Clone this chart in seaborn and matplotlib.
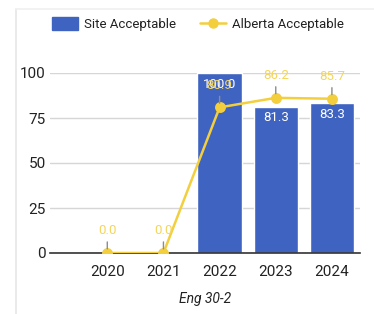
import numpy as np
import pandas as pd
import seaborn as sns
import matplotlib.pyplot as plt
from matplotlib.patches import Patch
from matplotlib.lines import Line2D

# data
years = ['2020', '2021', '2022', '2023', '2024']
site_acceptable = [np.nan, np.nan, 100.0, 81.3, 83.3]
alberta_acceptable = [0.0, 0.0, 80.9, 86.2, 85.7]
y_ticks = [0, 25, 50, 75, 100]

BLUE = '#3F63C1'
YELLOW = '#F3CF3E'
LABEL_YELLOW = '#F4D55E'

sns.set_style('white')
plt.rcParams['font.family'] = ['Roboto', 'DejaVu Sans']

df = pd.DataFrame({'year': years, 'site': site_acceptable, 'alberta': alberta_acceptable})

fig = plt.figure(figsize=(3.74, 3.14), dpi=100)
ax = fig.add_axes([50 / 374, 1 - 253 / 314, 310 / 374, 180 / 314])

sns.barplot(data=df, x='year', y='site', order=years, color=BLUE, width=0.79,
            saturation=1, ax=ax, zorder=2)
sns.pointplot(data=df, x='year', y='alberta', order=years, color=YELLOW,
              markersize=6.5, linewidth=1.8, ax=ax, zorder=4)

ax.set_xlim(-1.02, 4.5)
ax.set_ylim(0, 100)
ax.set_yticks(y_ticks)
ax.set_yticklabels([str(t) for t in y_ticks])
ax.yaxis.grid(True, color='#d6d6d6', lw=1, zorder=0)
ax.set_axisbelow(True)
for s in ['top', 'right', 'left']:
    ax.spines[s].set_visible(False)
ax.spines['bottom'].set_color('#333333')
ax.spines['bottom'].set_linewidth(1.2)
ax.spines['bottom'].set_zorder(3)
ax.tick_params(axis='both', length=0, labelsize=11, colors='#222222')
ax.tick_params(axis='x', pad=9)
ax.tick_params(axis='y', pad=3)
ax.set_ylabel('')
ax.set_xlabel('Eng 30-2', fontsize=10, style='italic', color='#222222', labelpad=9)

# bar value labels
for i, v in enumerate(site_acceptable):
    if not np.isnan(v):
        ax.annotate(f'{v:.1f}', xy=(i, v), xytext=(0, -8), textcoords='offset points',
                    ha='center', va='center', color='white', fontsize=9.5, zorder=6)

# line value labels with stems
for i, v in enumerate(alberta_acceptable):
    ax.annotate(f'{v:.1f}', xy=(i, v), xytext=(0, 16), textcoords='offset points',
                ha='center', va='center', color=LABEL_YELLOW, fontsize=9.5, zorder=7,
                arrowprops=dict(arrowstyle='-', color='#8c8c8c', lw=1.0,
                                shrinkA=1, shrinkB=3))

handles = [Patch(facecolor=BLUE, edgecolor=BLUE),
           Line2D([0], [0], color=YELLOW, lw=1.8, marker='o', markersize=6.5)]
fig.legend(handles, ['Site Acceptable', 'Alberta Acceptable'], ncol=2,
           loc='center left', bbox_to_anchor=(40 / 374, 1 - 24 / 314), frameon=False,
           fontsize=9.5, handlelength=2.0, handleheight=1.1, handletextpad=0.45,
           columnspacing=1.8, labelcolor='#222222')

# faint card edge
fig.add_artist(Line2D([16 / 374, 16 / 374], [0, 1 - 9 / 314], color='#e6e6e6', lw=1.2))
fig.add_artist(Line2D([16 / 374, 1], [1 - 9 / 314, 1 - 9 / 314], color='#f0f0f0', lw=1.2))

fig.savefig('out.png', dpi=100)
